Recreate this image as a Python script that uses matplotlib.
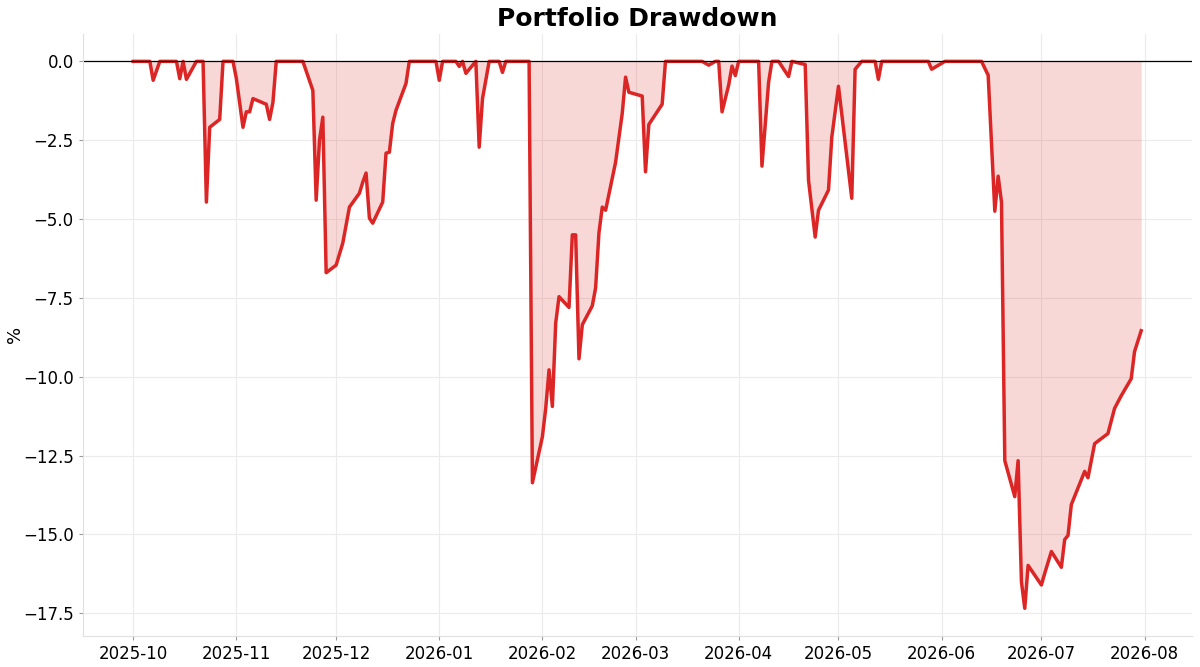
import matplotlib
matplotlib.use("Agg")
import matplotlib.pyplot as plt
import matplotlib.dates as mdates
import pandas as pd

# drawdown vertices (date, % below peak)
dates = [
	"2025-10-01", "2025-10-06", "2025-10-07", "2025-10-09", "2025-10-14", "2025-10-15",
	"2025-10-16", "2025-10-17", "2025-10-20", "2025-10-22", "2025-10-23", "2025-10-24",
	"2025-10-27", "2025-10-28", "2025-10-31", "2025-11-01", "2025-11-03", "2025-11-04",
	"2025-11-05", "2025-11-06", "2025-11-10", "2025-11-11", "2025-11-12", "2025-11-13",
	"2025-11-21", "2025-11-24", "2025-11-25", "2025-11-26", "2025-11-27", "2025-11-28",
	"2025-12-01", "2025-12-03", "2025-12-05", "2025-12-08", "2025-12-09", "2025-12-10",
	"2025-12-11", "2025-12-12", "2025-12-15", "2025-12-16", "2025-12-17", "2025-12-18",
	"2025-12-19", "2025-12-22", "2025-12-23", "2025-12-31", "2026-01-01", "2026-01-02",
	"2026-01-06", "2026-01-07", "2026-01-08", "2026-01-09", "2026-01-12", "2026-01-13",
	"2026-01-14", "2026-01-16", "2026-01-19", "2026-01-20", "2026-01-21", "2026-01-28",
	"2026-01-29", "2026-02-01", "2026-02-02", "2026-02-03", "2026-02-04", "2026-02-05",
	"2026-02-06", "2026-02-09", "2026-02-10", "2026-02-11", "2026-02-12", "2026-02-13",
	"2026-02-16", "2026-02-17", "2026-02-18", "2026-02-19", "2026-02-20", "2026-02-23",
	"2026-02-25", "2026-02-26", "2026-02-27", "2026-03-03", "2026-03-04", "2026-03-05",
	"2026-03-09", "2026-03-10", "2026-03-21", "2026-03-23", "2026-03-25", "2026-03-26",
	"2026-03-27", "2026-03-29", "2026-03-30", "2026-03-31", "2026-04-01", "2026-04-07",
	"2026-04-08", "2026-04-10", "2026-04-11", "2026-04-13", "2026-04-16", "2026-04-17",
	"2026-04-21", "2026-04-22", "2026-04-24", "2026-04-25", "2026-04-28", "2026-04-29",
	"2026-05-01", "2026-05-05", "2026-05-06", "2026-05-08", "2026-05-12", "2026-05-13",
	"2026-05-14", "2026-05-28", "2026-05-29", "2026-06-02", "2026-06-13", "2026-06-15",
	"2026-06-17", "2026-06-18", "2026-06-19", "2026-06-20", "2026-06-23", "2026-06-24",
	"2026-06-25", "2026-06-26", "2026-06-27", "2026-07-01", "2026-07-02", "2026-07-04",
	"2026-07-07", "2026-07-08", "2026-07-09", "2026-07-10", "2026-07-14", "2026-07-15",
	"2026-07-17", "2026-07-21", "2026-07-23", "2026-07-25", "2026-07-28", "2026-07-29",
	"2026-07-31",
]
drawdown = [
	0, 0, -0.6, 0, 0, -0.55,
	0, -0.57, 0, 0, -4.46, -2.09,
	-1.84, 0, 0, -0.54, -2.09, -1.6,
	-1.6, -1.18, -1.36, -1.84, -1.3, 0,
	0, -0.92, -4.4, -2.5, -1.77, -6.7,
	-6.46, -5.76, -4.62, -4.18, -3.83, -3.54,
	-4.97, -5.13, -4.46, -2.91, -2.88, -1.97,
	-1.55, -0.7, 0, 0, -0.6, 0,
	0, -0.16, 0, -0.38, 0, -2.72,
	-1.18, 0, 0, -0.35, 0, 0,
	-13.36, -11.9, -11.0, -9.78, -10.94, -8.3,
	-7.46, -7.8, -5.5, -5.5, -9.43, -8.35,
	-7.75, -7.18, -5.44, -4.62, -4.72, -3.2,
	-1.65, -0.5, -0.98, -1.1, -3.5, -2.0,
	-1.36, 0, 0, -0.12, 0, 0,
	-1.6, -0.75, -0.15, -0.45, 0, 0,
	-3.32, -0.66, 0, 0, -0.48, 0,
	-0.1, -3.77, -5.57, -4.72, -4.08, -2.4,
	-0.79, -4.34, -0.25, 0, 0, -0.57,
	0, 0, -0.25, 0, 0, -0.44,
	-4.75, -3.64, -4.46, -12.66, -13.8, -12.66,
	-16.5, -17.34, -15.98, -16.6, -16.23, -15.54,
	-16.04, -15.16, -15.03, -14.05, -13.0, -13.2,
	-12.12, -11.8, -11.0, -10.6, -10.06, -9.2,
	-8.54,
]

x = pd.to_datetime(dates)
red = "#dc2626"

fig = plt.figure(figsize=(12, 6.67), dpi=100)
ax = fig.add_axes([0.069, 0.047, 0.924, 0.902])

ax.fill_between(x, drawdown, 0, color=red, alpha=0.18, linewidth=0)
ax.plot(x, drawdown, color=red, linewidth=2.5)
ax.axhline(0, color="black", linewidth=0.9)

ax.set_title("Portfolio Drawdown", fontsize=18, fontweight="bold", pad=6)
ax.set_ylabel("%", fontsize=13)
ax.yaxis.set_label_coords(-0.053, 0.5)

ax.xaxis.set_major_locator(mdates.MonthLocator())
ax.xaxis.set_major_formatter(mdates.DateFormatter("%Y-%m"))
ax.grid(True, color="#ebebeb", linewidth=0.8)
ax.set_axisbelow(True)
ax.tick_params(labelsize=12, length=3, color="#999999")
for s in ["top", "right"]:
	ax.spines[s].set_visible(False)
for s in ["left", "bottom"]:
	ax.spines[s].set_color("#e0e0e0")

fig.savefig("out.png", dpi=100)
